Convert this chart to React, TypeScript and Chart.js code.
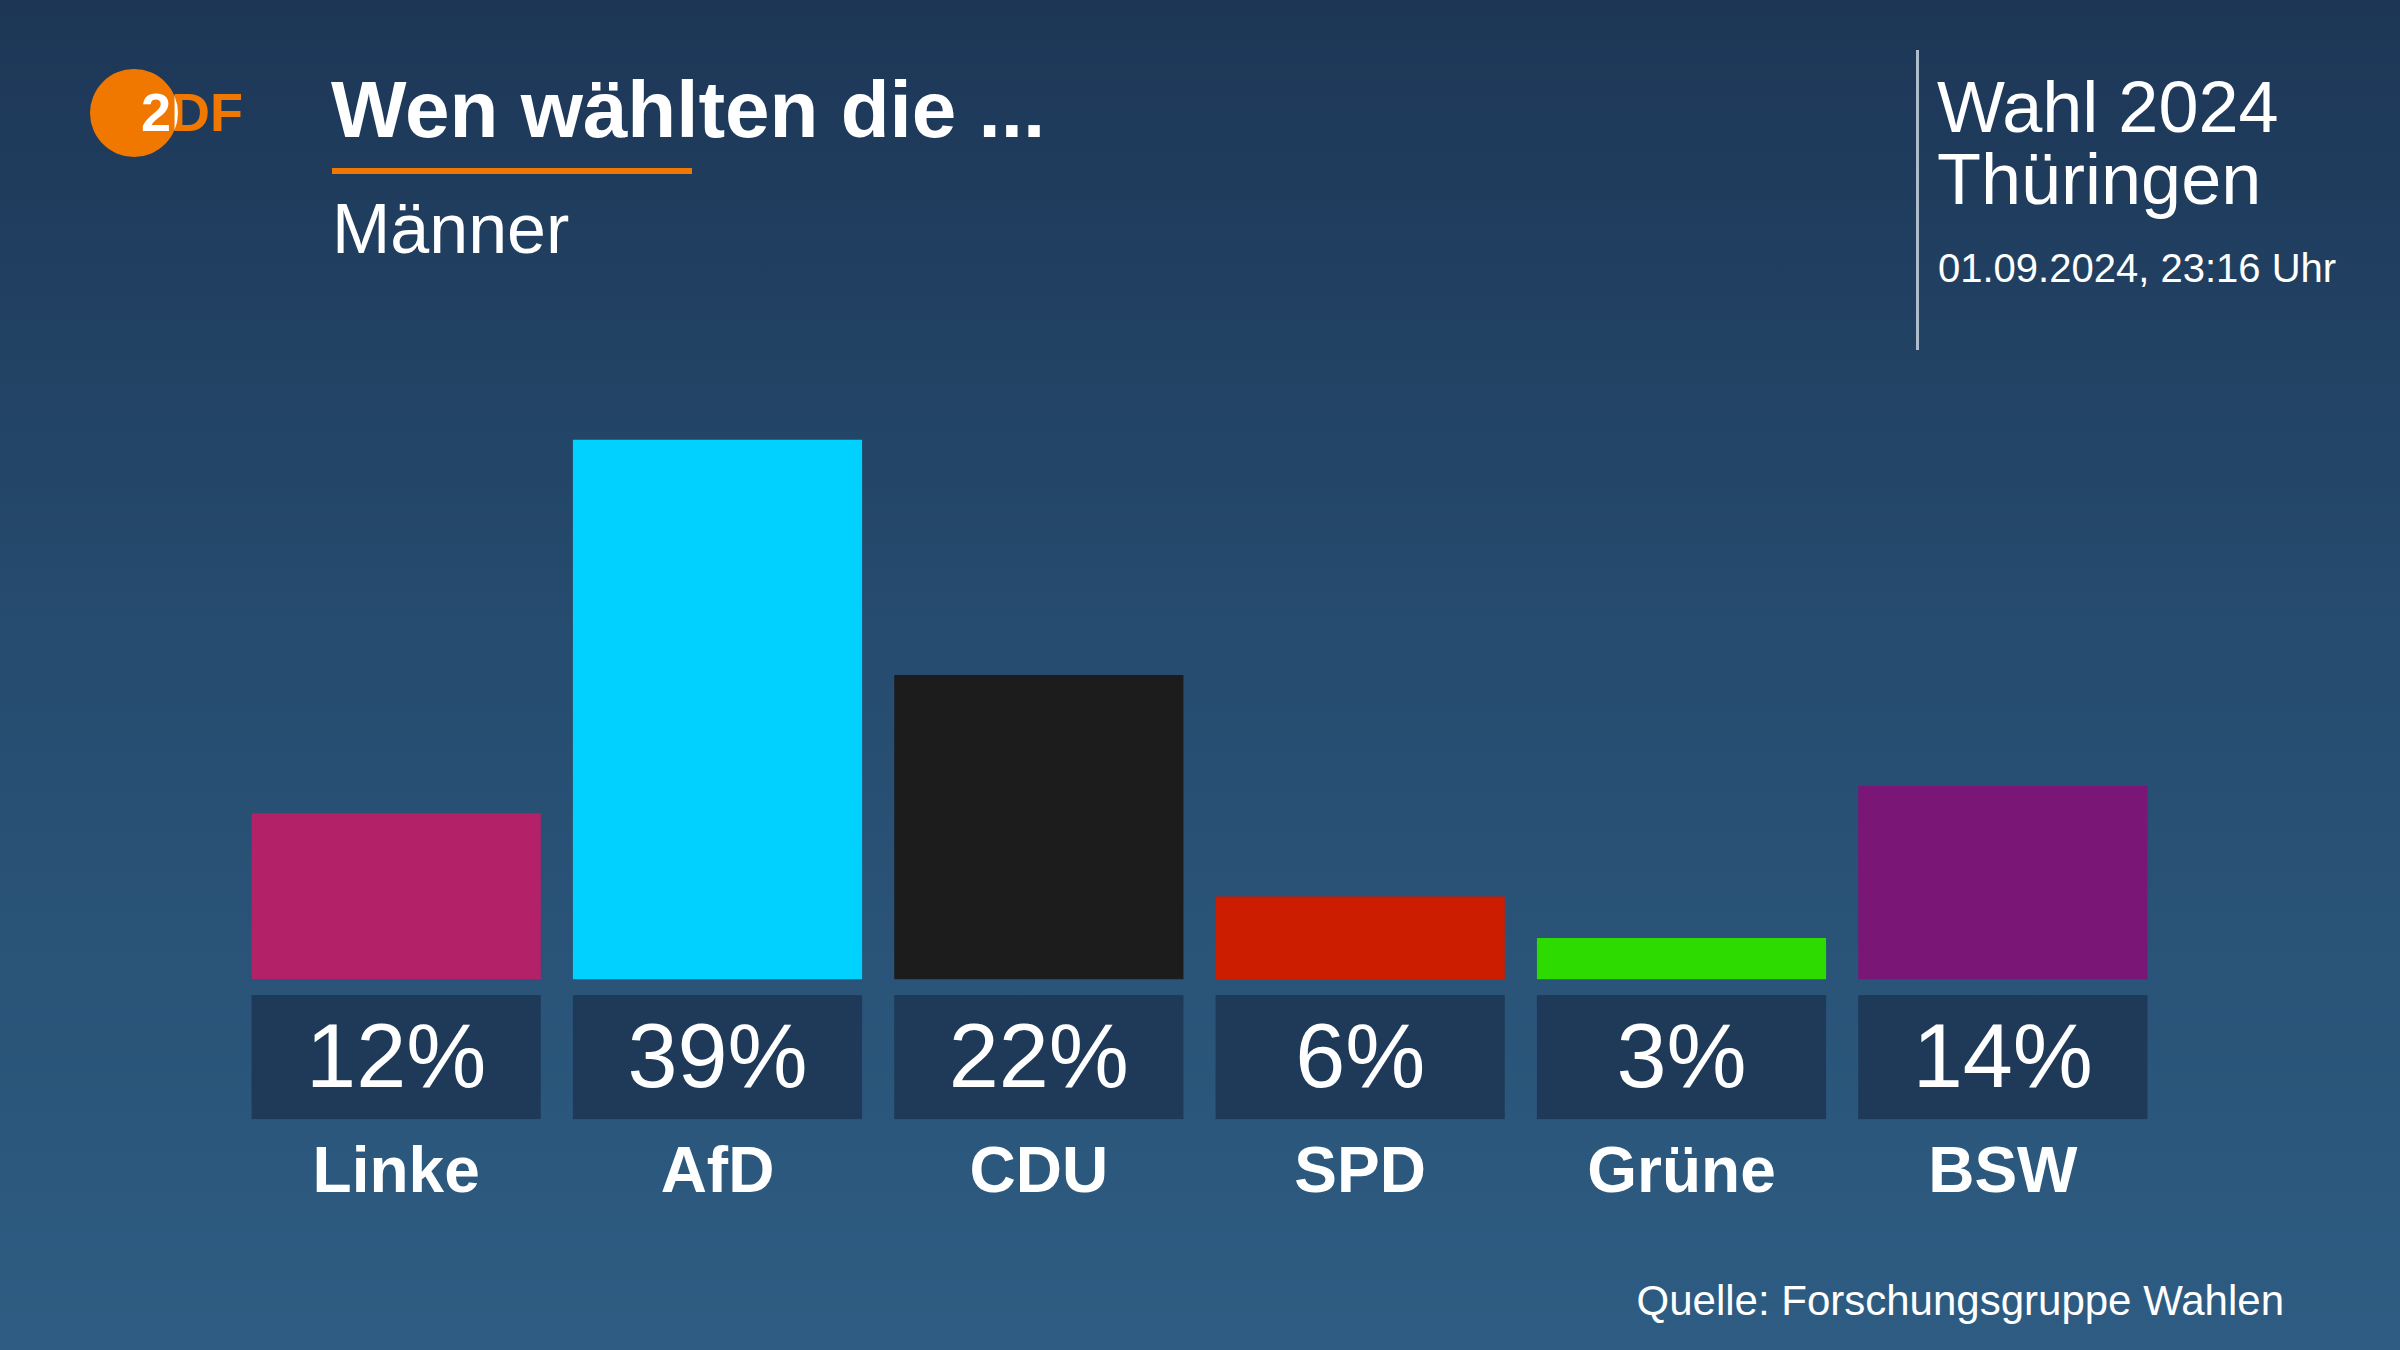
import React, { useEffect, useRef } from "react";
import { Chart, registerables } from "chart.js";

Chart.register(...registerables);

const parties = ["Linke", "AfD", "CDU", "SPD", "Grüne", "BSW"];
const shares = [12, 39, 22, 6, 3, 14];
const shareLabels = ["12%", "39%", "22%", "6%", "3%", "14%"];
const partyColors = ["#b32268", "#00d1ff", "#1c1c1c", "#cc1d00", "#2ddb00", "#7a1776"];

const FONT = "'Liberation Sans', Arial, sans-serif";

const labelPlugin = {
  id: "boxLabels",
  afterDatasetsDraw(chart: any) {
    const ctx = chart.ctx;
    const meta = chart.getDatasetMeta(0);
    const bottom = chart.chartArea.bottom;
    ctx.save();
    meta.data.forEach((bar: any, i: number) => {
      const w = bar.width;
      const x = bar.x;
      ctx.fillStyle = "#1f3a58";
      ctx.fillRect(x - w / 2, bottom + 15.5, w, 124);
      ctx.fillStyle = "#ffffff";
      ctx.textAlign = "center";
      ctx.textBaseline = "middle";
      ctx.font = `400 90px ${FONT}`;
      ctx.fillText(shareLabels[i], x, bottom + 83);
      ctx.font = `700 64px ${FONT}`;
      ctx.fillText(parties[i], x, bottom + 195);
    });
    ctx.restore();
  },
};

export default function App() {
  const ref = useRef<HTMLCanvasElement | null>(null);

  useEffect(() => {
    if (!ref.current) return;
    const chart = new Chart(ref.current, {
      type: "bar",
      data: {
        labels: parties,
        datasets: [
          {
            data: shares,
            backgroundColor: partyColors,
            borderWidth: 0,
            categoryPercentage: 1,
            barPercentage: 0.9,
          },
        ],
      },
      options: {
        responsive: false,
        animation: false,
        devicePixelRatio: 1,
        layout: { padding: { left: 235.5, right: 236.5, top: 439.5, bottom: 370.4 } },
        plugins: { legend: { display: false }, tooltip: { enabled: false } },
        scales: {
          x: { display: false },
          y: { display: false, min: 0, max: 39 },
        },
      },
      plugins: [labelPlugin],
    });
    return () => chart.destroy();
  }, []);

  const txt = (extra: React.CSSProperties): React.CSSProperties => ({
    position: "absolute",
    color: "#ffffff",
    fontFamily: FONT,
    lineHeight: 1,
    whiteSpace: "nowrap",
    margin: 0,
    ...extra,
  });

  return (
    <div
      style={{
        position: "absolute",
        left: 0,
        top: 0,
        width: 2400,
        height: 1350,
        overflow: "hidden",
        background: "linear-gradient(180deg, #1d3656 0%, #264d70 50%, #2e5c82 100%)",
      }}
    >
      <svg width={260} height={200} style={{ position: "absolute", left: 0, top: 0 }}>
        <defs>
          <clipPath id="logoClip">
            <circle cx={134} cy={113} r={44} />
          </clipPath>
        </defs>
        <circle cx={134} cy={113} r={44} fill="#f07800" />
        <text x={141} y={131} fill="#f07800" fontFamily={FONT} fontWeight={700} fontSize={54}>
          2DF
        </text>
        <text
          x={141}
          y={131}
          fill="#ffffff"
          fontFamily={FONT}
          fontWeight={700}
          fontSize={54}
          clipPath="url(#logoClip)"
        >
          2DF
        </text>
      </svg>
      <div style={txt({ left: 331, top: 70, fontSize: 80, fontWeight: 700 })}>Wen wählten die ...</div>
      <div style={{ position: "absolute", left: 332, top: 168, width: 360, height: 6, background: "#f07800" }} />
      <div style={txt({ left: 332, top: 194, fontSize: 70 })}>Männer</div>
      <div style={{ position: "absolute", left: 1916, top: 50, width: 3, height: 300, background: "#aebdcc" }} />
      <div style={txt({ left: 1937, top: 70.5, fontSize: 72 })}>Wahl 2024</div>
      <div style={txt({ left: 1937, top: 142.5, fontSize: 72 })}>Thüringen</div>
      <div style={txt({ left: 1938, top: 247.7, fontSize: 40 })}>01.09.2024, 23:16 Uhr</div>
      <div style={txt({ right: 116, top: 1280.4, fontSize: 42 })}>Quelle: Forschungsgruppe Wahlen</div>
      <canvas
        ref={ref}
        width={2400}
        height={1350}
        style={{ position: "absolute", left: 0, top: 0, width: 2400, height: 1350 }}
      />
    </div>
  );
}
